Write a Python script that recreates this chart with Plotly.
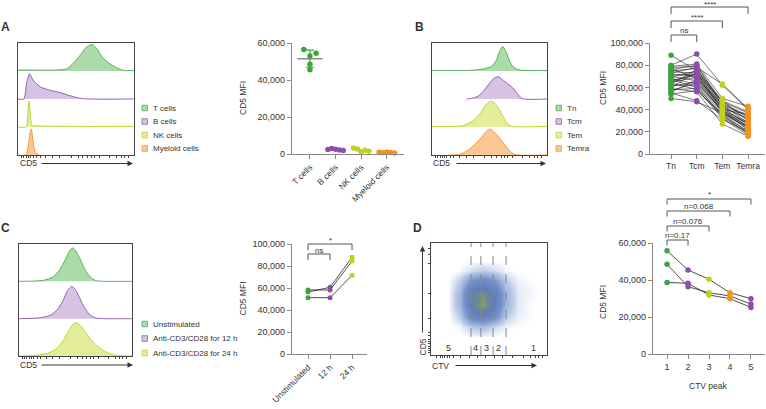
import plotly.graph_objects as go

W, H = 766, 409

# ---------------- DATA ----------------
# Panel A : histograms (x = relative CD5 position, h = relative height)
a_legend = ['T cells', 'B cells', 'NK cells', 'Myeloid cells']
a_t_x = [0, 0.3, 0.42, 0.48, 0.54, 0.59, 0.64, 0.68, 0.72, 0.77, 0.85, 0.91, 1.0]
a_t_h = [0.02, 0.03, 0.08, 0.3, 0.6, 0.88, 0.97, 0.82, 0.55, 0.33, 0.12, 0.02, 0.01]
a_b_x = [0, 0.05, 0.075, 0.1, 0.13, 0.19, 0.27, 0.36, 0.45, 0.53, 0.6, 1.0]
a_b_h = [0, 0.0, 0.6, 0.93, 0.7, 0.45, 0.33, 0.24, 0.12, 0.03, 0.0, 0.0]
a_nk_x = [0, 0.07, 0.085, 0.095, 0.105, 0.12, 0.15, 0.3, 0.6, 1.0]
a_nk_h = [0, 0.0, 0.5, 0.96, 0.5, 0.06, 0.04, 0.03, 0.02, 0.01]
a_my_x = [0.05, 0.07, 0.09, 0.105, 0.115, 0.13, 0.15, 0.18]
a_my_h = [0, 0, 0.4, 0.85, 0.96, 0.5, 0.1, 0.0]

# Panel A : dot plot
a_categories = ['T cells', 'B cells', 'NK cells', 'Myeloid cells']
a_tcells_mfi = [56500, 54500, 53000, 48500, 45500]
a_bcells_mfi = [2400, 3000, 2600, 2200, 1900]
a_nkcells_mfi = [3200, 2700, 1200, 2000, 1500]
a_myeloid_mfi = [900, 700, 1100, 800, 600]
a_tcells_mean = 51500
a_tcells_sd = 4600
a_yticks = [0, 20000, 40000, 60000]

# Panel B : histograms
b_legend = ['Tn', 'Tcm', 'Tem', 'Temra']
b_tn_x = [0, 0.3, 0.4, 0.47, 0.52, 0.56, 0.59, 0.615, 0.64, 0.67, 0.7, 0.74, 0.8, 1]
b_tn_h = [0.01, 0.02, 0.05, 0.1, 0.18, 0.4, 0.75, 0.9, 0.75, 0.42, 0.18, 0.06, 0.02, 0.01]
b_tcm_x = [0.3, 0.34, 0.4, 0.45, 0.5, 0.54, 0.575, 0.61, 0.66, 0.7, 0.75, 0.79, 1]
b_tcm_h = [0, 0.02, 0.1, 0.3, 0.58, 0.76, 0.82, 0.72, 0.55, 0.42, 0.15, 0.01, 0]
b_tem_x = [0, 0.2, 0.27, 0.34, 0.42, 0.47, 0.52, 0.56, 0.59, 0.63, 0.66, 0.7, 1]
b_tem_h = [0.01, 0.02, 0.05, 0.18, 0.5, 0.82, 0.96, 0.8, 0.6, 0.3, 0.1, 0.02, 0.01]
b_temra_x = [0.15, 0.2, 0.26, 0.32, 0.38, 0.44, 0.48, 0.505, 0.53, 0.57, 0.61, 0.65, 0.7, 0.74, 1]
b_temra_h = [0, 0.0, 0.05, 0.2, 0.42, 0.7, 0.9, 0.96, 0.88, 0.72, 0.5, 0.28, 0.06, 0, 0]

# Panel B : dot plot (paired donors)
b_categories = ['Tn', 'Tcm', 'Tem', 'Temra']
b_tn = [89000, 80000, 79000, 78000, 77000, 76000, 75000, 74000, 73000, 72000,
        71000, 70000, 69000, 68000, 67000, 66000, 65000, 64000, 63000, 62000,
        61000, 60000, 59000, 58000, 57000, 56000, 55000, 50000, 54000, 66000]
b_tcm = [75000, 90000, 81000, 79000, 68000, 80000, 77000, 73000, 78000, 70000,
         72000, 66000, 75000, 63000, 60000, 71000, 69000, 58000, 76000, 62000,
         65000, 74000, 56000, 59000, 64000, 67000, 48000, 47000, 57000, 72000]
b_tem = [48000, 62000, 50000, 47000, 45000, 44000, 46000, 42000, 63000, 40000,
         38000, 39000, 43000, 36000, 35000, 41000, 37000, 34000, 44000, 33000,
         38000, 40000, 27000, 32000, 39000, 42000, 31000, 37000, 36000, 48000]
b_temra = [30000, 40000, 43000, 37000, 35000, 28000, 33000, 26000, 41000, 24000,
           22000, 29000, 31000, 20000, 18000, 27000, 25000, 21000, 34000, 19000,
           23000, 36000, 16000, 17000, 25000, 32000, 20000, 28000, 24000, 38000]
b_yticks = [0, 20000, 40000, 60000, 80000, 100000]

# Panel C : histograms
c_legend = ['Unstimulated', 'Anti-CD3/CD28 for 12 h', 'Anti-CD3/CD28 for 24 h']
c_un_x = [0, 0.15, 0.22, 0.3, 0.36, 0.41, 0.45, 0.475, 0.5, 0.54, 0.58, 0.63, 0.68, 0.75, 1]
c_un_h = [0, 0.01, 0.03, 0.12, 0.32, 0.6, 0.85, 0.92, 0.85, 0.62, 0.35, 0.12, 0.02, 0, 0]
c_12_x = [0, 0.12, 0.2, 0.28, 0.34, 0.39, 0.43, 0.466, 0.5, 0.54, 0.58, 0.63, 0.68, 0.75, 1]
c_12_h = [0, 0.01, 0.03, 0.1, 0.25, 0.5, 0.78, 0.89, 0.8, 0.55, 0.3, 0.1, 0.02, 0, 0]
c_24_x = [0, 0.1, 0.18, 0.26, 0.33, 0.39, 0.44, 0.48, 0.505, 0.53, 0.58, 0.63, 0.69, 0.75, 0.82, 0.89, 1]
c_24_h = [0, 0.01, 0.03, 0.08, 0.2, 0.42, 0.7, 0.88, 0.92, 0.88, 0.7, 0.48, 0.28, 0.14, 0.05, 0.01, 0]

# Panel C : dot plot
c_categories = ['Unstimulated', '12 h', '24 h']
c_donor1 = [56400, 60600, 87900]
c_donor2 = [58200, 58200, 84500]
c_donor3 = [51200, 51200, 71500]
c_yticks = [0, 20000, 40000, 60000, 80000, 100000]

# Panel D : CTV x CD5 density (estimated from the dot plot)
d_ctv_grid = [0.05, 0.15, 0.25, 0.35, 0.45, 0.55, 0.65, 0.75, 0.85, 0.95]
d_cd5_grid = [0.05, 0.15, 0.25, 0.35, 0.45, 0.55, 0.65, 0.75, 0.85, 0.95]
d_density = [
    [0, 0, 0, 0, 0, 0, 0, 0, 0, 0],
    [0, 0, 0, 0, 0, 0, 0, 0, 0, 0],
    [0, 0, 0.3, 1.5, 2, 1, 0.3, 0.1, 0, 0],
    [0, 0, 1.5, 6, 7, 5, 1.5, 0.4, 0.2, 0],
    [0, 0, 2.5, 8, 10, 7, 2.5, 0.6, 0.2, 0.1],
    [0, 0, 2.5, 8, 9, 7, 2.5, 0.6, 0.3, 0.1],
    [0, 0, 1.5, 5, 6, 4.5, 1.5, 0.4, 0.2, 0],
    [0, 0, 0.2, 1, 1.5, 1, 0.3, 0.1, 0, 0],
    [0, 0, 0, 0, 0, 0, 0, 0, 0, 0],
    [0, 0, 0, 0, 0, 0, 0, 0, 0, 0],
]
d_gates = [0.345, 0.43, 0.535, 0.647]
d_gate_labels = ['5', '4', '3', '2', '1']
d_gate_label_x = [0.155, 0.38, 0.48, 0.58, 0.88]

# Panel D : dot plot
d_peaks = [1, 2, 3, 4, 5]
d_donor1 = [55800, 45400, 40400, 33100, 29900]
d_donor2 = [48500, 36400, 33100, 31350, 27000]
d_donor3 = [38700, 38200, 31900, 29900, 25200]
d_yticks = [0, 20000, 40000, 60000]

# ---------------- STYLE ----------------
GREEN, GREEN_F, GREEN_M = '#58b158', '#abdba9', '#3ba53b'
PURPLE, PURPLE_F, PURPLE_M = '#9561b0', '#d6c2e3', '#8e4dab'
YGREEN, YGREEN_F, YGREEN_M = '#c3d52a', '#e3ed9c', '#bdd21f'
ORANGE, ORANGE_F, ORANGE_M = '#f39a37', '#f9c895', '#f7901e'
TXT = '#333333'
AX = '#8a8a8a'
FONT = 'Liberation Sans, Arial, sans-serif'

fig = go.Figure()
layout = dict(width=W, height=H, margin=dict(l=0, r=0, t=0, b=0, autoexpand=False),
              paper_bgcolor='white', plot_bgcolor='rgba(0,0,0,0)',
              showlegend=False, font=dict(family=FONT, size=8, color=TXT))
shapes, annos = [], []


def PX(x):
    return x / W


def PY(y):
    return 1 - y / H


def set_axes(n, xd, yd, xr, yr, xkw=None, ykw=None):
    s = '' if n == 1 else str(n)
    xa = dict(domain=[PX(xd[0]), PX(xd[1])], range=xr, anchor='y' + s,
              showgrid=False, zeroline=False, automargin=False)
    ya = dict(domain=[PY(yd[1]), PY(yd[0])], range=yr, anchor='x' + s,
              showgrid=False, zeroline=False, automargin=False)
    xa.update(xkw or {})
    ya.update(ykw or {})
    layout['xaxis' + s] = xa
    layout['yaxis' + s] = ya


hist_ticks = [0.03, 0.05, 0.07, 0.09, 0.11, 0.13, 0.16, 0.19, 0.24, 0.3, 0.36,
              0.46, 0.52, 0.56, 0.6, 0.63, 0.66, 0.7, 0.79, 0.85, 0.89, 0.92, 0.95]
HX = dict(showline=True, mirror=True, linecolor='#444', linewidth=1, ticks='outside',
          ticklen=2, tickcolor='#444', tickvals=hist_ticks, showticklabels=False)
HY = dict(showline=True, mirror=True, linecolor='#444', linewidth=1, ticks='',
          showticklabels=False)


def dot_x(cats, angle=0):
    return dict(showline=True, linecolor=AX, linewidth=1.2, ticks='outside', ticklen=4,
                tickcolor=AX, tickwidth=1, tickvals=list(range(len(cats))), ticktext=cats,
                tickangle=angle, tickfont=dict(size=8.5, color=TXT))


def dot_y(tv):
    return dict(showline=True, linecolor=AX, linewidth=1.2, ticks='outside', ticklen=4,
                tickcolor=AX, tickwidth=1, tickvals=tv, tickformat=',',
                tickfont=dict(size=9, color=TXT))


def hist(ax, xs, hs, base, line, fill, scale=0.97):
    s = '' if ax == 1 else str(ax)
    ys = [base + h * scale for h in hs]
    fig.add_trace(go.Scatter(x=[xs[0]] + xs + [xs[-1]], y=[base] + ys + [base],
                             mode='lines', fill='toself', fillcolor=fill,
                             line=dict(color=line, width=1, shape='spline', smoothing=0.7),
                             xaxis='x' + s, yaxis='y' + s, hoverinfo='skip'))


def legend(x, ys, labels, lines, fills):
    for y, lab, lc, fc in zip(ys, labels, lines, fills):
        shapes.append(dict(type='rect', xref='paper', yref='paper', x0=PX(x), x1=PX(x + 5.5),
                           y0=PY(y + 2.8), y1=PY(y - 2.8), fillcolor=fc,
                           line=dict(color=lc, width=0.8)))
        annos.append(dict(xref='paper', yref='paper', x=PX(x + 9), y=PY(y), text=lab,
                          showarrow=False, xanchor='left', yanchor='middle',
                          font=dict(size=8, color=TXT)))


def text(x, y, t, size=8, angle=0, bold=False, xa='center'):
    annos.append(dict(xref='paper', yref='paper', x=PX(x), y=PY(y),
                      text=('<b>%s</b>' % t) if bold else t, showarrow=False,
                      textangle=angle, xanchor=xa, yanchor='middle',
                      font=dict(size=size, color=TXT)))


def arrow(x_head, y_head, dx, dy):
    annos.append(dict(xref='paper', yref='paper', x=PX(x_head), y=PY(y_head), text='',
                      showarrow=True, ax=dx, ay=dy, arrowhead=2, arrowsize=1.1,
                      arrowwidth=1, arrowcolor='#333'))


def bracket(xref, x0, x1, y, leg, label, ty):
    shapes.append(dict(type='path', xref=xref, yref='paper',
                       path='M %s,%s L %s,%s L %s,%s L %s,%s' % (
                           x0, PY(y + leg), x0, PY(y), x1, PY(y), x1, PY(y + leg)),
                       line=dict(color='#555', width=1)))
    annos.append(dict(xref=xref, yref='paper', x=(x0 + x1) / 2, y=PY(ty), text=label,
                      showarrow=False, yanchor='middle', font=dict(size=8, color=TXT)))


# ================= PANEL A =================
set_axes(1, (18, 134), (43, 155), [0, 1], [0, 4], HX, HY)
hist(1, a_t_x, a_t_h, 3, GREEN, GREEN_F)
hist(1, a_b_x, a_b_h, 2, PURPLE, PURPLE_F)
hist(1, a_nk_x, a_nk_h, 1, YGREEN, YGREEN_F)
hist(1, a_my_x, a_my_h, 0, ORANGE, ORANGE_F)
legend(142, [108, 121.5, 135, 148.5], a_legend,
       [GREEN, PURPLE, YGREEN, ORANGE], [GREEN_F, PURPLE_F, YGREEN_F, ORANGE_F])
text(28, 163.5, 'CD5', 8.5)
arrow(133, 163.5, -93, 0)
text(6, 27, 'A', 12, bold=True)

set_axes(2, (292, 404), (43, 154), [-0.7, 3.67], [0, 60000],
         dot_x(a_categories, -45), dot_y(a_yticks))
t_off = [-0.24, 0.24, 0.0, 0.0, 0.0]
o_off = [-0.3, -0.15, 0.0, 0.15, 0.3]
fig.add_trace(go.Scatter(x=[0], y=[a_tcells_mean], mode='markers', xaxis='x2', yaxis='y2',
                         marker=dict(symbol='line-ew', size=18, line=dict(color='#8a8a8a', width=1.5)),
                         error_y=dict(type='data', array=[a_tcells_sd], color=GREEN_M,
                                      thickness=1.2, width=4), cliponaxis=False))
for i, (vals, col, off) in enumerate([(a_tcells_mfi, GREEN_M, t_off), (a_bcells_mfi, PURPLE_M, o_off),
                                      (a_nkcells_mfi, YGREEN_M, o_off), (a_myeloid_mfi, ORANGE_M, o_off)]):
    fig.add_trace(go.Scatter(x=[i + o for o in off], y=vals, mode='markers', xaxis='x2', yaxis='y2',
                             marker=dict(color=col, size=5.5), cliponaxis=False))
text(242.5, 98.5, 'CD5 MFI', 8.5, angle=-90)

# ================= PANEL B =================
set_axes(3, (432, 547), (43, 155), [0, 1], [0, 4], HX, HY)
hist(3, b_tn_x, b_tn_h, 3, GREEN, GREEN_F)
hist(3, b_tcm_x, b_tcm_h, 2, PURPLE, PURPLE_F)
hist(3, b_tem_x, b_tem_h, 1, YGREEN, YGREEN_F)
hist(3, b_temra_x, b_temra_h, 0, ORANGE, ORANGE_F)
legend(556, [108, 121.5, 135, 148.5], b_legend,
       [GREEN, PURPLE, YGREEN, ORANGE], [GREEN_F, PURPLE_F, YGREEN_F, ORANGE_F])
text(441, 163.5, 'CD5', 8.5)
arrow(546, 163.5, -91, 0)
text(419.5, 27, 'B', 12, bold=True)

set_axes(4, (650, 765), (43, 154), [-0.82, 3.66], [0, 100000],
         dot_x(b_categories), dot_y(b_yticks))
b_cols = [GREEN_M, PURPLE_M, YGREEN_M, ORANGE_M]
for d in range(len(b_tn)):
    fig.add_trace(go.Scatter(x=[0, 1, 2, 3], y=[b_tn[d], b_tcm[d], b_tem[d], b_temra[d]],
                             mode='lines', line=dict(color='#222', width=0.6),
                             xaxis='x4', yaxis='y4', cliponaxis=False))
for i, vals in enumerate([b_tn, b_tcm, b_tem, b_temra]):
    fig.add_trace(go.Scatter(x=[i] * len(vals), y=vals, mode='markers', xaxis='x4', yaxis='y4',
                             marker=dict(color=b_cols[i], size=5.5), cliponaxis=False))
bracket('x4', 0, 1, 35, 7, 'ns', 30.5)
bracket('x4', 0, 2, 21, 7, '****', 17)
bracket('x4', 0, 3, 7, 7, '****', 4)
text(603, 88, 'CD5 MFI', 8.5, angle=-90)

# ================= PANEL C =================
set_axes(5, (19, 132), (244, 356), [0, 1], [0, 3], HX, HY)
hist(5, c_un_x, c_un_h, 2, GREEN, GREEN_F)
hist(5, c_12_x, c_12_h, 1, PURPLE, PURPLE_F)
hist(5, c_24_x, c_24_h, 0, YGREEN, YGREEN_F)
legend(142, [324, 338.5, 353], c_legend, [GREEN, PURPLE, YGREEN], [GREEN_F, PURPLE_F, YGREEN_F])
text(28, 365, 'CD5', 8.5)
arrow(133, 365, -93, 0)
text(6, 228, 'C', 12, bold=True)

set_axes(6, (292, 367), (244, 354), [-0.73, 2.68], [0, 100000],
         dot_x(c_categories, -45), dot_y(c_yticks))
c_cols = [GREEN_M, PURPLE_M, YGREEN_M]
for dn in [c_donor1, c_donor2, c_donor3]:
    fig.add_trace(go.Scatter(x=[0, 1, 2], y=dn, mode='lines+markers', xaxis='x6', yaxis='y6',
                             line=dict(color='#222', width=0.8),
                             marker=dict(color=c_cols, size=5), cliponaxis=False))
bracket('x6', 0, 2, 244, 6, '*', 240.5)
bracket('x6', 0, 1, 254, 6, 'ns', 250.5)
text(242.5, 299, 'CD5 MFI', 8.5, angle=-90)

# ================= PANEL D =================
d_xticks = [0.05, 0.08, 0.1, 0.12, 0.14, 0.16, 0.19, 0.25, 0.33, 0.4, 0.47, 0.55, 0.62, 0.7, 0.8, 0.86, 0.9, 0.93, 0.96]
d_yticks_s = [0.02, 0.04, 0.06, 0.08, 0.1, 0.12, 0.14, 0.17, 0.2, 0.33, 0.55, 0.82, 0.9, 0.95]
set_axes(7, (431, 547), (243, 355), [0, 1], [0, 1],
         dict(showline=True, mirror=True, linecolor='#444', linewidth=1, ticks='outside', ticklen=2,
              tickcolor='#444', tickvals=d_xticks, showticklabels=False),
         dict(showline=True, mirror=True, linecolor='#444', linewidth=1, ticks='outside', ticklen=2,
              tickcolor='#444', tickvals=d_yticks_s, showticklabels=False))
fig.add_trace(go.Heatmap(x=d_ctv_grid, y=d_cd5_grid, z=d_density, xaxis='x7', yaxis='y7',
                         zsmooth='best', showscale=False, hoverinfo='skip',
                         colorscale=[[0, 'rgba(255,255,255,0)'], [0.03, '#f1f4fa'], [0.15, '#b9c8e6'],
                                     [0.45, '#7390c8'], [0.75, '#5f7db8'], [0.9, '#6f8f86'],
                                     [1, '#93a05a']], zmin=0, zmax=10))
for g in d_gates:
    shapes.append(dict(type='line', xref='x7', yref='y7', x0=g, x1=g, y0=0, y1=1,
                       line=dict(color='#888', width=1, dash='dash')))
for lx, lab in zip(d_gate_label_x, d_gate_labels):
    annos.append(dict(xref='x7', yref='y7', x=lx, y=0.065, text=lab, showarrow=False,
                      font=dict(size=9, color=TXT)))
text(422.5, 347, 'CD5', 8.5, angle=-90)
arrow(422.5, 246, 0, 88)
text(440, 365.5, 'CTV', 8.5)
arrow(537, 365.5, -83, 0)
text(418, 227.5, 'D', 12, bold=True)

set_axes(8, (653, 765), (243, 354), [0.33, 5.67], [0, 60000],
         dict(showline=True, linecolor=AX, linewidth=1.2, ticks='outside', ticklen=4, tickcolor=AX,
              tickvals=d_peaks, tickfont=dict(size=9, color=TXT)),
         dot_y(d_yticks))
d_cols = [GREEN_M, PURPLE_M, YGREEN_M, ORANGE_M, PURPLE_M]
for dn in [d_donor1, d_donor2, d_donor3]:
    fig.add_trace(go.Scatter(x=d_peaks, y=dn, mode='lines+markers', xaxis='x8', yaxis='y8',
                             line=dict(color='#222', width=0.8),
                             marker=dict(color=d_cols, size=5.5), cliponaxis=False))
bracket('x8', 1, 2, 240, 5.5, 'n=0.17', 235.5)
bracket('x8', 1, 3, 226, 5.5, 'n=0.076', 221.5)
bracket('x8', 1, 4, 211, 5.5, 'n=0.068', 206.5)
bracket('x8', 1, 5, 199, 5.5, '*', 195)
text(603, 302, 'CD5 MFI', 8.5, angle=-90)
text(708, 386, 'CTV peak', 8.5)

layout['shapes'] = shapes
layout['annotations'] = annos
fig.update_layout(**layout)
fig.write_html('out.html', config={'displayModeBar': False},
               post_script="document.body.style.margin='0';document.body.style.overflow='hidden';")
